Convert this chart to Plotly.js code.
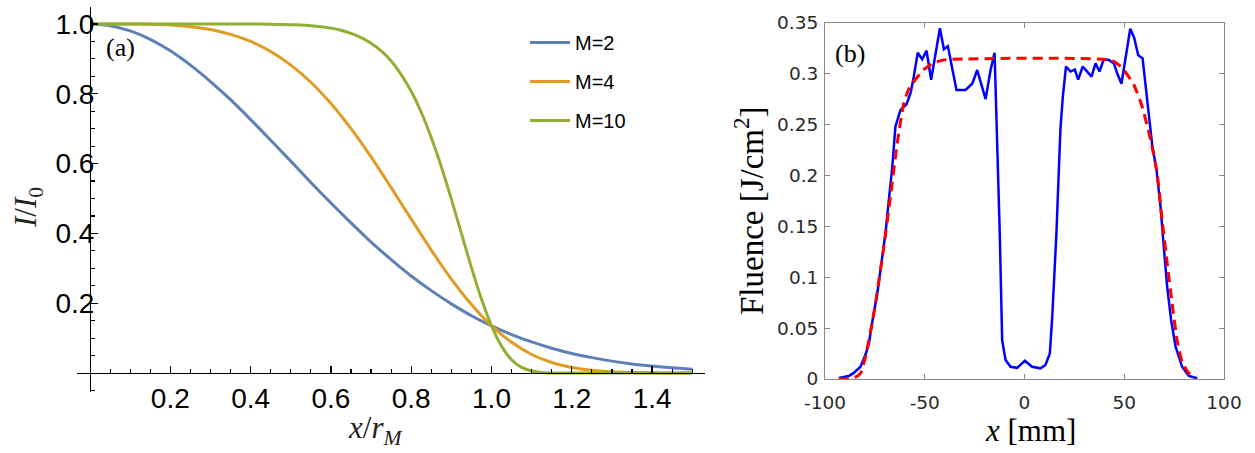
<!DOCTYPE html>
<html>
<head>
<meta charset="utf-8">
<script src="https://cdn.plot.ly/plotly-3.0.1.min.js"></script>
<style>html,body{margin:0;padding:0;background:#fff;}#chart{width:1255px;height:453px;}</style>
</head>
<body>
<div id="chart"></div>
<script>
// ---------- Panel (a): normalized intensity profiles ----------
const xA = [0,0.05,0.1,0.15,0.2,0.25,0.3,0.35,0.4,0.45,0.5,0.55,0.6,0.65,0.7,0.75,0.8,0.85,0.9,0.95,1.0,1.05,1.1,1.15,1.2,1.25,1.3,1.35,1.4,1.45,1.5];
const yM2 = [1,0.995,0.980,0.956,0.923,0.882,0.835,0.783,0.726,0.667,0.607,0.546,0.487,0.430,0.375,0.325,0.278,0.236,0.198,0.164,0.135,0.110,0.089,0.071,0.056,0.044,0.034,0.026,0.020,0.015,0.011];
const yM4 = [1,1,1,0.999,0.997,0.992,0.984,0.970,0.950,0.921,0.882,0.833,0.772,0.700,0.619,0.531,0.441,0.352,0.269,0.196,0.135,0.088,0.053,0.030,0.016,0.0076,0.0033,0.0013,0.0005,0.0002,0];
const xM10 = [0,0.1,0.2,0.3,0.4,0.45,0.5,0.525,0.55,0.575,0.6,0.625,0.65,0.675,0.7,0.725,0.75,0.775,0.8,0.825,0.85,0.875,0.9,0.925,0.95,0.975,1.0,1.025,1.05,1.075,1.1,1.125,1.15,1.175,1.2,1.3,1.4,1.5];
const yM10 = [1,1,1,1,0.9998,0.9993,0.998,0.997,0.995,0.992,0.988,0.982,0.973,0.961,0.945,0.923,0.894,0.855,0.807,0.747,0.674,0.591,0.498,0.400,0.302,0.212,0.135,0.077,0.038,0.016,0.0056,0.0015,0.0003,0,0,0,0,0];
const seriesNames = ['M=2','M=4','M=10'];
const xTicksA = [0.2,0.4,0.6,0.8,1.0,1.2,1.4];
const xTickTextA = ['0.2','0.4','0.6','0.8','1.0','1.2','1.4'];
const yTicksA = [0.2,0.4,0.6,0.8,1.0];
const yTickTextA = ['0.2','0.4','0.6','0.8','1.0'];

// ---------- Panel (b): measured fluence and fit ----------
const xMeas = [-93.1,-88.1,-85.6,-82.2,-79.5,-78.0,-76.4,-73.8,-71.3,-69.7,-68.0,-66.3,-64.7,-62.2,-59.1,-57.1,-55.5,-53.5,-51.3,-49.1,-46.8,-42.4,-40.4,-38.4,-34.1,-29.6,-26.2,-23.7,-19.5,-17.0,-15.0,-13.7,-12.4,-11.2,-9.5,-7.0,-3.7,0.2,3.8,8.0,10.5,12.7,13.9,16.0,18.0,19.2,20.8,23.1,25.2,26.9,29.2,31.4,33.6,35.6,37.6,39.7,42.3,44.8,46.5,48.6,50.6,53.0,55.0,57.0,59.2,61.5,64.0,66.2,68.2,69.8,71.5,73.5,75.7,79.0,82.4,86.6];
const yMeas = [0.001,0.003,0.006,0.012,0.025,0.035,0.055,0.084,0.120,0.143,0.176,0.208,0.248,0.264,0.270,0.281,0.297,0.3205,0.314,0.3225,0.294,0.3445,0.324,0.327,0.284,0.284,0.290,0.3035,0.275,0.3035,0.3205,0.241,0.143,0.038,0.0187,0.012,0.011,0.018,0.012,0.0105,0.0138,0.025,0.061,0.143,0.245,0.277,0.307,0.302,0.304,0.294,0.307,0.302,0.297,0.310,0.302,0.314,0.3135,0.310,0.300,0.290,0.3165,0.344,0.335,0.318,0.315,0.272,0.230,0.205,0.169,0.130,0.091,0.058,0.032,0.012,0.003,0.0007];
const xFit = [-93,-88,-85,-82.2,-79.7,-75.5,-70.5,-67.2,-63.8,-60.5,-58,-55.5,-50.5,-45.5,-40.4,43,47,50,54.8,59.0,63.2,66.5,69.0,71.5,74.0,76.5,79.0,82.4,85.7];
const yFit = [0,0,0.0015,0.0055,0.022,0.0645,0.130,0.179,0.2315,0.271,0.285,0.292,0.304,0.3105,0.3135,0.3135,0.309,0.303,0.289,0.2675,0.235,0.202,0.156,0.114,0.0744,0.038,0.017,0.0056,0.0007];
const xTicksB = [-100,-50,0,50,100];
const yTicksB = [0,0.05,0.1,0.15,0.2,0.25,0.3,0.35];
const yTickTextB = ['0','0.05','0.1','0.15','0.2','0.25','0.3','0.35'];

const colorsA = ['#5E81B5','#E19C24','#8FB032'];

const minorX = [];
for (let i = 1; i <= 30; i++) { const v = +(i*0.05).toFixed(2); if (Math.abs(v/0.2 - Math.round(v/0.2)) > 1e-6) minorX.push(v); }
const minorY = [-0.05];
for (let i = 1; i <= 21; i++) { const v = +(i*0.05).toFixed(2); if (Math.abs(v/0.2 - Math.round(v/0.2)) > 1e-6) minorY.push(v); }

const traces = [
  {x:xA, y:yM2, name:seriesNames[0], legendgroup:'g1', mode:'lines', line:{color:colorsA[0], width:3, shape:'spline', smoothing:0.8}, xaxis:'x', yaxis:'y'},
  {x:xA, y:yM4, name:seriesNames[1], legendgroup:'g2', mode:'lines', line:{color:colorsA[1], width:3, shape:'spline', smoothing:0.8}, xaxis:'x', yaxis:'y'},
  {x:xM10, y:yM10, name:seriesNames[2], legendgroup:'g3', mode:'lines', line:{color:colorsA[2], width:3, shape:'spline', smoothing:0.6}, xaxis:'x', yaxis:'y'},
  {x:xMeas, y:yMeas, name:'measured', showlegend:false, mode:'lines', line:{color:'#0000FF', width:2.5}, xaxis:'x2', yaxis:'y2'},
  {x:xFit, y:yFit, name:'fit', showlegend:false, mode:'lines', line:{color:'#FF0000', width:3, dash:'10px,6px', shape:'spline', smoothing:0.5}, xaxis:'x2', yaxis:'y2'}
];

const W = 1255, H = 453;
const px = v => v / W;
const py = v => 1 - v / H;

const sansA = {family:'Liberation Sans, Arial, sans-serif', size:28, color:'#000'};
const sansB = {family:'DejaVu Sans, Helvetica, sans-serif', size:18.5, color:'#2a2a2a'};
const serif = 'Liberation Serif, Times New Roman, serif';

function ann(text, x, y, size, color, angle) {
  return {text:text, x:px(x), y:py(y), xref:'paper', yref:'paper', xanchor:'center', yanchor:'middle',
          showarrow:false, textangle:angle || 0, font:{family:serif, size:size, color:color}};
}

const layout = {
  width:W, height:H,
  margin:{l:0, r:0, t:0, b:0},
  paper_bgcolor:'#fff', plot_bgcolor:'rgba(0,0,0,0)',
  showlegend:true,
  legend:{x:px(525), y:py(23), xanchor:'left', yanchor:'top', font:{family:'Liberation Sans, Arial, sans-serif', size:20, color:'#000'},
          bgcolor:'rgba(0,0,0,0)', tracegroupgap:10, borderwidth:0, itemwidth:40},
  xaxis:{domain:[px(77.2), px(705.1)], range:[-0.032,1.532], anchor:'free', position:py(373),
    showline:true, linecolor:'#000', linewidth:1.3, zeroline:false, showgrid:false,
    ticks:'inside', ticklen:7, tickwidth:1.3, tickcolor:'#000',
    tickmode:'array', tickvals:xTicksA, ticktext:xTickTextA, tickfont:sansA,
    minor:{tickmode:'array', tickvals:minorX, ticks:'inside', ticklen:4, tickwidth:1.2, tickcolor:'#000'}, fixedrange:true},
  yaxis:{domain:[py(392.2), py(6.5)], range:[-0.055,1.05], anchor:'free', position:px(90),
    showline:true, linecolor:'#000', linewidth:1.3, zeroline:false, showgrid:false,
    ticks:'inside', ticklen:7, tickwidth:1.3, tickcolor:'#000', ticklabelstandoff:-10,
    tickmode:'array', tickvals:yTicksA, ticktext:yTickTextA, tickfont:sansA,
    minor:{tickmode:'array', tickvals:minorY, ticks:'inside', ticklen:4, tickwidth:1.2, tickcolor:'#000'}, fixedrange:true},
  xaxis2:{domain:[px(825), px(1224)], range:[-100,100], anchor:'y2',
    showline:true, mirror:'ticks', linecolor:'#8a8a8a', linewidth:1, zeroline:false, showgrid:false,
    ticks:'inside', ticklen:5, tickwidth:1, tickcolor:'#8a8a8a', ticklabelstandoff:7,
    tickmode:'array', tickvals:xTicksB, ticktext:xTicksB.map(String), tickfont:sansB, fixedrange:true},
  yaxis2:{domain:[py(379), py(22.7)], range:[0,0.35], anchor:'x2',
    showline:true, mirror:'ticks', linecolor:'#8a8a8a', linewidth:1, zeroline:false, showgrid:false,
    ticks:'inside', ticklen:5, tickwidth:1, tickcolor:'#8a8a8a', ticklabelstandoff:2,
    tickmode:'array', tickvals:yTicksB, ticktext:yTickTextB, tickfont:sansB, fixedrange:true},
  annotations:[
    ann('(a)', 120, 48, 26, '#000'),
    ann('(b)', 850, 54, 26, '#000'),
    ann('<i>I</i>/<i>I</i><sub>0</sub>', 28, 208, 31, '#222', -90),
    ann('<i>x</i>/<i>r</i><sub><i>M</i></sub>', 375, 430, 31, '#222'),
    ann('Fluence [J/cm<sup>2</sup>]', 749, 211, 33, '#000', -90),
    ann('<i>x</i> [mm]', 1030, 430, 31, '#000')
  ]
};

Plotly.newPlot('chart', traces, layout, {displayModeBar:false, staticPlot:true});
</script>
</body>
</html>
